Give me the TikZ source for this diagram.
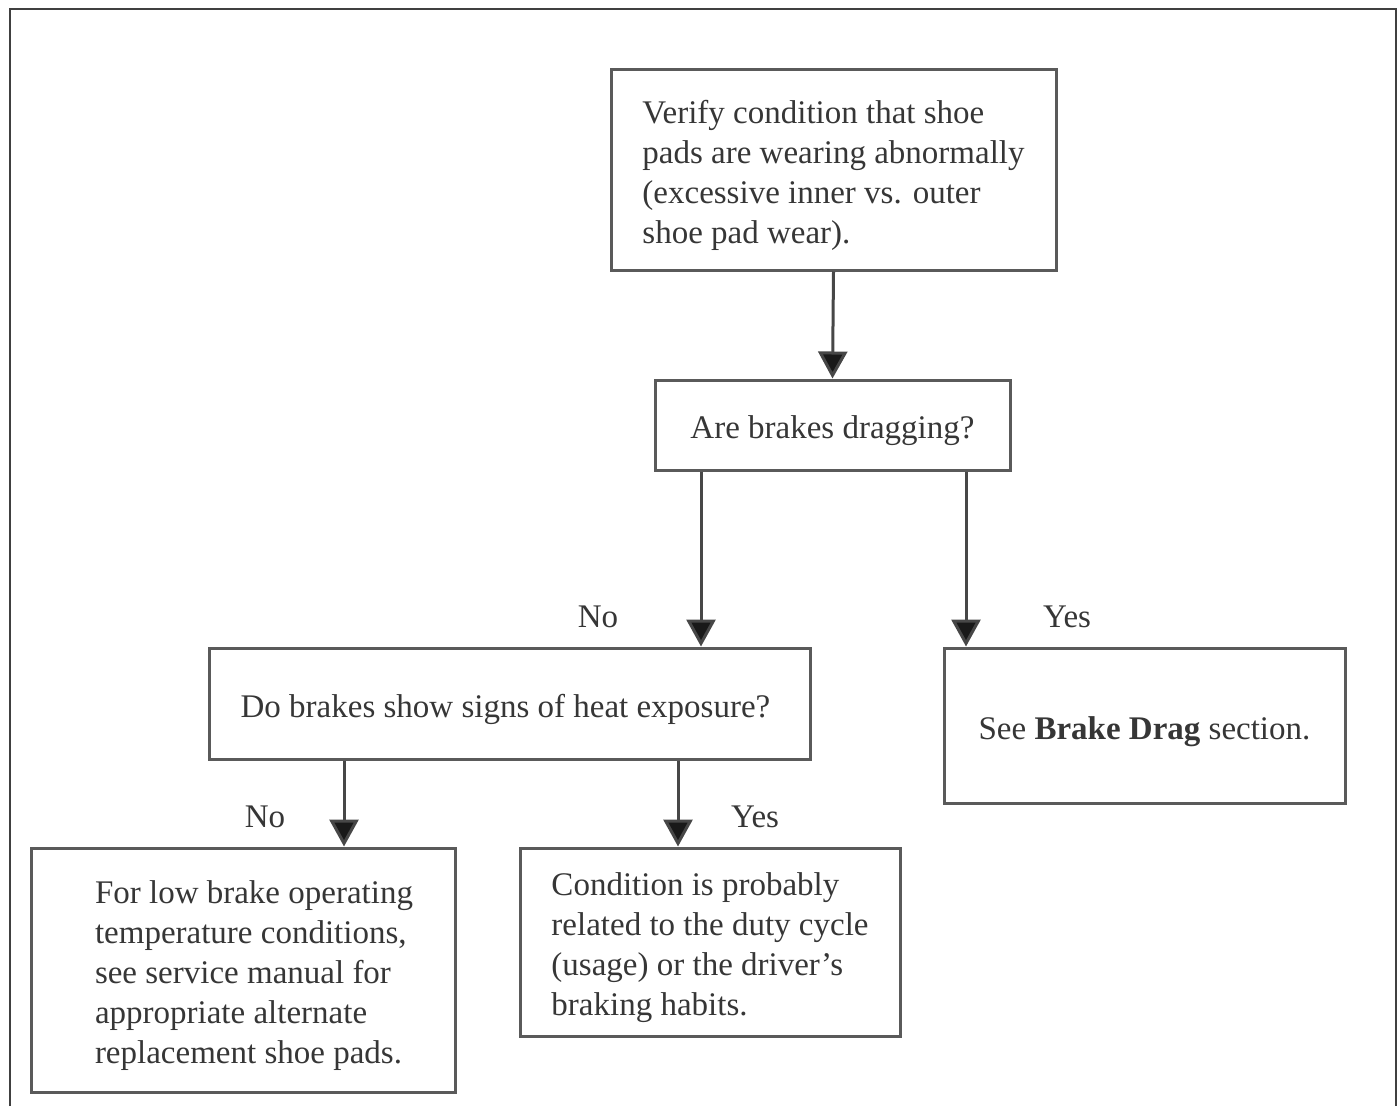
\documentclass[tikz,border=0pt]{standalone}
\usepackage{fontspec}
\setmainfont{Liberation Serif}
\usetikzlibrary{arrows.meta}
\definecolor{boxline}{HTML}{5A5A5A}
\definecolor{txt}{HTML}{363636}
\tikzset{
  box/.style={draw=boxline, line width=3pt, rectangle, inner sep=0pt},
  btext/.style={align=left, inner sep=0pt, text=txt, font=\fontsize{33}{40}\selectfont, yshift=-6pt},
  lbl/.style={text=txt, font=\fontsize{33}{40}\selectfont, inner sep=0pt},
  arr/.style={draw=black!72, line width=3pt, -{Triangle[width=29pt,length=27pt,fill=black!90]}},
  frame/.style={draw=black!75, line width=2.5pt}
}
\begin{document}
\begin{tikzpicture}[x=1pt,y=-1pt]
\useasboundingbox (0,0) rectangle (1399,1106);
\draw[frame] (10,1106) -- (10,9) -- (1396,9) -- (1396,1106);

\node[box, minimum width=445pt, minimum height=201pt] (top) at (833.5,169.5) {};
\node[box, minimum width=355pt, minimum height=90pt] (drag) at (832.5,425) {};
\node[box, minimum width=601pt, minimum height=111pt] (heat) at (509.5,703.5) {};
\node[box, minimum width=401pt, minimum height=155pt] (bdrag) at (1144.5,725.5) {};
\node[box, minimum width=424pt, minimum height=244pt] (low) at (243,970) {};
\node[box, minimum width=380pt, minimum height=188pt] (cond) at (710,942) {};

\node[btext] (toptext) at (top.center)
  {Verify condition that shoe\\pads are wearing abnormally\\(excessive inner vs. outer\\shoe pad wear).};
\node[btext] (dragtext) at (drag.center) {Are brakes dragging?};
\node[btext, xshift=-4pt] (heattext) at (heat.center) {Do brakes show signs of heat exposure?};
\node[btext] (bdragtext) at (bdrag.center) {See \textbf{Brake Drag} section.};
\node[btext, xshift=11pt] (lowtext) at (low.center)
  {For low brake operating\\temperature conditions,\\see service manual for\\appropriate alternate\\replacement shoe pads.};
\node[btext] (condtext) at (cond.center)
  {Condition is probably\\related to the duty cycle\\(usage) or the driver’s\\braking habits.};

\coordinate (xno) at (701,0);
\coordinate (xyes) at (966,0);
\coordinate (xno2) at (344,0);
\coordinate (xyes2) at (678,0);

\draw[arr] (top.south) -- (drag.north);
\draw[arr] (drag.south -| xno) -- (heat.north -| xno);
\draw[arr] (drag.south -| xyes) -- (bdrag.north -| xyes);
\draw[arr] (heat.south -| xno2) -- (low.north -| xno2);
\draw[arr] (heat.south -| xyes2) -- (cond.north -| xyes2);

\node[lbl] (lno1) at (598,617) {No};
\node[lbl] (lyes1) at (1067,617) {Yes};
\node[lbl] (lno2) at (265,817) {No};
\node[lbl] (lyes2) at (755,817) {Yes};
\end{tikzpicture}
\end{document}
